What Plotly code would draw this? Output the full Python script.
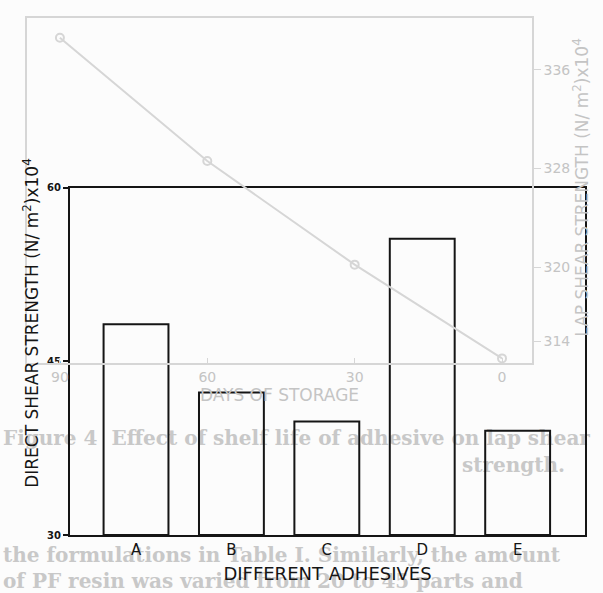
import plotly.graph_objects as go

# Main bar chart data
adhesives = ["A", "B", "C", "D", "E"]
shear_strength = [48.2, 42.3, 39.8, 55.6, 39.0]
y_ticks = [30, 45, 60]

# Faint show-through chart (from other side of page)
days = [90, 60, 30, 0]
lap_strength = [338.6, 328.6, 320.2, 312.6]
days_ticks = [90, 60, 30, 0]
lap_ticks = [336, 328, 320, 314]

# Page text show-through
caption_lines = [
    "Figure 4  Effect of shelf life of adhesive on lap shear",
    "strength.",
]
body_lines = [
    "the formulations in Table I. Similarly, the amount",
    "of PF resin was varied from 20 to 45 parts and",
]

FAINT = "#d6d6d6"
FAINT_TXT = "#c4c4c4"
PAGE_TXT = "#c8c8c8"
INK = "#151515"

W, H = 603, 593
L, R, T, B = 27, 18, 13, 56
pw, ph = W - L - R, H - T - B

def px(x):
    return (x - L) / pw

def py(y):
    return (H - B - y) / ph

fig = go.Figure()

fig.add_trace(go.Bar(
    x=adhesives, y=[v - 30 for v in shear_strength], base=30,
    marker=dict(color="rgba(0,0,0,0)", line=dict(color=INK, width=2)),
    width=0.68, xaxis="x", yaxis="y", showlegend=False, hoverinfo="skip",
))

fig.add_trace(go.Scatter(
    x=days, y=lap_strength, mode="lines+markers",
    line=dict(color=FAINT, width=2),
    marker=dict(symbol="circle-open", size=8, color=FAINT, line=dict(width=2)),
    xaxis="x2", yaxis="y2", showlegend=False, hoverinfo="skip",
))

fig.update_layout(
    width=W, height=H,
    margin=dict(l=L, r=R, t=T, b=B),
    paper_bgcolor="#fcfcfc", plot_bgcolor="rgba(0,0,0,0)",
    xaxis=dict(
        domain=[px(70), 1], range=[-0.692, 4.706],
        showline=True, linecolor=INK, linewidth=2, mirror=True,
        ticks="", showgrid=False, zeroline=False,
        tickfont=dict(family="DejaVu Sans", size=15, color=INK),
        title=dict(text="DIFFERENT ADHESIVES", standoff=9,
                   font=dict(family="DejaVu Sans", size=18, color=INK)),
    ),
    yaxis=dict(
        domain=[0, py(185)], range=[30, 60],
        tickvals=y_ticks, showline=True, linecolor=INK, linewidth=2,
        mirror=True, ticks="outside", ticklen=5, tickwidth=2, tickcolor=INK,
        showgrid=False, zeroline=False,
        tickfont=dict(family="DejaVu Sans", size=10, color=INK, weight="bold"),
    ),
    xaxis2=dict(
        domain=[0, px(532)], range=[96.7, -6.1], anchor="y2",
        tickvals=days_ticks, showline=True, linecolor=FAINT, linewidth=1.5,
        mirror=True, ticks="inside", ticklen=6, tickcolor=FAINT,
        showgrid=False, zeroline=False,
        tickfont=dict(family="DejaVu Sans", size=14, color=FAINT_TXT),
        title=dict(text="DAYS OF STORAGE", standoff=1,
                   font=dict(family="DejaVu Sans", size=17, color=FAINT_TXT)),
    ),
    yaxis2=dict(
        domain=[py(363), 1], range=[312.2, 340.2], anchor="x2", side="right",
        tickvals=lap_ticks, showline=True, linecolor=FAINT, linewidth=1.5,
        mirror=True, ticks="outside", ticklen=7, tickcolor=FAINT,
        showgrid=False, zeroline=False,
        tickfont=dict(family="DejaVu Sans", size=14, color=FAINT_TXT),
    ),
)

# show-through page text, drawn below the chart layers
shapes = []
for txt, x0, x1, yy, pos in [(caption_lines[0], 0, 603, 438, "middle left"),
                             (caption_lines[1], 300, 568, 465, "middle right"),
                             (body_lines[0], 0, 603, 556, "middle left"),
                             (body_lines[1], 0, 603, 583, "middle left")]:
    shapes.append(dict(
        type="rect", xref="paper", yref="paper", layer="below",
        x0=px(x0), x1=px(x1), y0=py(yy + 10), y1=py(yy - 10),
        line=dict(width=0), fillcolor="rgba(0,0,0,0)",
        label=dict(text=txt, textposition=pos, padding=0,
                   font=dict(family="DejaVu Serif", size=20, color=PAGE_TXT,
                             weight="bold"))))
fig.update_layout(shapes=shapes)

annotations = [
    dict(text="LAP SHEAR STRENGTH (N/ m<sup>2</sup>)x10<sup>4</sup>",
         x=px(581), y=py(185), xref="paper", yref="paper", textangle=-90,
         showarrow=False, xanchor="center", yanchor="middle",
         font=dict(family="DejaVu Sans", size=17, color=FAINT_TXT)),
    dict(text="DIRECT SHEAR STRENGTH (N/ m<sup>2</sup>)x10<sup>4</sup>",
         x=px(31), y=py(322), xref="paper", yref="paper", textangle=-90,
         showarrow=False, xanchor="center", yanchor="middle",
         font=dict(family="DejaVu Sans", size=17, color=INK)),
]
fig.update_layout(annotations=annotations)

fig.write_html("out.html", config={"displayModeBar": False},
               post_script="document.body.style.margin='0';document.body.style.padding='0';")
